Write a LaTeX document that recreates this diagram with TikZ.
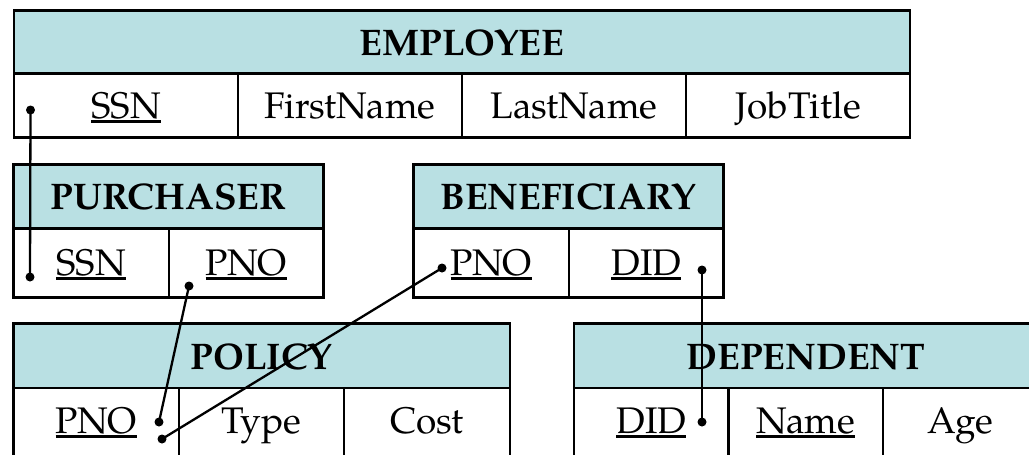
\documentclass[tikz,border=0pt]{standalone}
\usepackage{fontspec}
\setmainfont{TeX Gyre Pagella}
\definecolor{headblue}{RGB}{185,224,227}
% key attributes: thick rule just under the baseline
\newcommand{\keyul}[1]{\setbox0=\hbox{#1}\rlap{\rule[-4.5pt]{\wd0}{2.8pt}}\box0}
\tikzset{
  cell/.style={draw=black, line width=2.5pt, inner sep=0pt,
    font=\fontsize{37}{41}\selectfont, text height=25.5pt, text depth=0pt},
  head/.style={cell, fill=headblue, font=\fontsize{37}{41}\selectfont\bfseries,
    text height=26.5pt},
  % bottom row cut by the page edge: text kept near the top
  lowcell/.style={cell, minimum height=100pt, text depth=35.5pt},
  dot/.style={circle, fill=black, inner sep=0pt, minimum size=9pt},
  link/.style={line width=2.3pt, shorten <=-1pt, shorten >=-1pt}
}
\begin{document}
\begin{tikzpicture}[x=1pt, y=-1pt]
\useasboundingbox (0,0) rectangle (1029,455);
\clip (0,0) rectangle (1029,455);

% EMPLOYEE
\node[head, minimum width=896pt, minimum height=63pt] (emp) at (462,42) {EMPLOYEE};
\node[cell, minimum width=224pt, minimum height=64pt] (emp-ssn)   at (126,105.5) {\keyul{SSN}};
\node[cell, minimum width=224pt, minimum height=64pt] (emp-first) at (350,105.5) {FirstName};
\node[cell, minimum width=224pt, minimum height=64pt] (emp-last)  at (574,105.5) {LastName};
\node[cell, minimum width=224pt, minimum height=64pt] (emp-job)   at (798,105.5) {JobTitle};

% PURCHASER
\node[head, minimum width=310pt, minimum height=64pt] (pur) at (168.5,196.5) {PURCHASER};
\node[cell, minimum width=155.5pt, minimum height=69pt] (pur-ssn) at (91.25,263) {\keyul{SSN}};
\node[cell, minimum width=154.5pt, minimum height=69pt] (pur-pno) at (246.25,263) {\keyul{PNO}};

% BENEFICIARY
\node[head, minimum width=310pt, minimum height=64pt] (ben) at (568.5,196.5) {BENEFICIARY};
\node[cell, minimum width=155.5pt, minimum height=69pt] (ben-pno) at (491.25,263) {\keyul{PNO}};
\node[cell, minimum width=154.5pt, minimum height=69pt] (ben-did) at (646.25,263) {\keyul{DID}};

% POLICY
\node[head, minimum width=496.5pt, minimum height=64.5pt] (pol) at (261.75,355.75) {POLICY};
\node[lowcell, minimum width=165.5pt] (pol-pno)  at (96.25,438) {\keyul{PNO}};
\node[lowcell, minimum width=165pt]   (pol-type) at (261.5,438) {Type};
\node[lowcell, minimum width=166pt]   (pol-cost) at (427,438) {Cost};

% DEPENDENT
\node[head, minimum width=464pt, minimum height=64.5pt] (dep) at (806,355.75) {DEPENDENT};
\node[lowcell, minimum width=154.5pt] (dep-did)  at (651.25,438) {\keyul{DID}};
\node[lowcell, minimum width=154.5pt] (dep-name) at (805.75,438) {\keyul{Name}};
\node[lowcell, minimum width=155pt]   (dep-age)  at (960.5,438) {Age};

% reference points
\node[dot] (d-emp-ssn)  at (30.5,110) {};
\node[dot] (d-pur-ssn)  at (30,277) {};
\node[dot] (d-pur-pno)  at (189,286) {};
\node[dot] (d-pol-pno1) at (159,422) {};
\node[dot] (d-ben-pno)  at (442,268) {};
\node[dot] (d-pol-pno2) at (162,439) {};
\node[dot] (d-ben-did)  at (702,270) {};
\node[dot] (d-dep-did)  at (702,422) {};

% foreign keys
\draw[link] (d-emp-ssn) -- (d-pur-ssn);
\draw[link] (d-pur-pno) -- (d-pol-pno1);
\draw[link] (d-ben-pno) -- (d-pol-pno2);
\draw[link] (d-ben-did) -- (d-dep-did);
\end{tikzpicture}
\end{document}
